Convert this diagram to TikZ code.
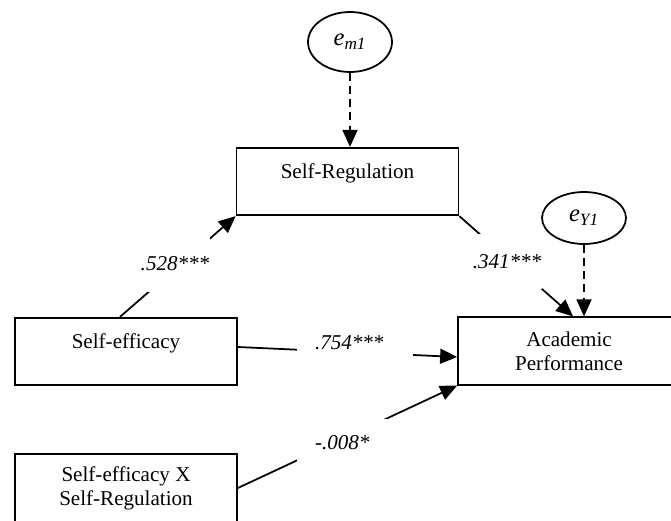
\documentclass[tikz,border=0pt]{standalone}
\usepackage{fontspec}
\setmainfont{Liberation Serif}
\usepackage{tikz}
\usetikzlibrary{arrows.meta,shapes.geometric,positioning,calc}

\tikzset{
  varbox/.style={draw,line width=1pt,rectangle,minimum width=4.44cm,minimum height=1.35cm,align=center,inner sep=0pt},
  onebox/.style={varbox,text height=0.3cm,text depth=0.42cm},
  errnode/.style={draw,line width=1pt,ellipse,inner sep=0pt,font=\fontsize{14pt}{16pt}\selectfont},
  arr/.style={line width=1pt,-{Triangle[length=0.34cm,width=0.3cm]}},
  errarr/.style={arr,dash pattern=on 4.5pt off 3pt},
  coef/.style={fill=white,inner sep=0pt,font=\fontsize{12pt}{14pt}\selectfont\itshape},
  widecoef/.style={coef,text width=1.6cm,align=left,inner xsep=0.36cm}
}

\begin{document}
\begin{tikzpicture}[x=0.02cm,y=-0.02cm,font=\fontsize{12pt}{13.7pt}\selectfont]
\clip (0,0) rectangle (671,520);
\node[errnode,minimum width=1.68cm,minimum height=1.2cm] (em1) at (350,42) {\textit{e}\textsubscript{\textit{m1}}};
\node[errnode,minimum width=1.68cm,minimum height=1.04cm] (ey1) at (584,218) {\textit{e}\textsubscript{\textit{Y1}}};
\node[onebox] (sr) at (347.5,181.5) {Self-Regulation};
\node[onebox] (se) at (126,351.5) {Self-efficacy};
\node[varbox] (ap) at (569,351) {Academic\\Performance};
\node[varbox] (sxs) at (126,488) {Self-efficacy X\\Self-Regulation};
\draw[errarr] (em1.south) -- (em1.south |- sr.north);
\draw[errarr] (ey1.south) -- (ey1.south |- ap.north);
\draw[arr] ([xshift=-0.12cm]se.north) -- (sr.south west);
\draw[arr] (sr.south east) -- ([xshift=0.08cm]ap.north);
\draw[arr] ([yshift=0.09cm]se.east) -- ([yshift=-0.12cm]ap.west);
\draw[arr] (sxs.east) -- (ap.south west);
\node[coef,minimum width=1.4cm,minimum height=1.12cm] (c528) at (175,264) {.528***};
\node[coef,minimum width=1.4cm,minimum height=1.1cm] (c341) at (507,261.5) {.341***};
\node[widecoef,minimum height=0.92cm] (c754) at (355,343) {.754***};
\node[widecoef,minimum height=0.96cm] (c008) at (355,443) {-.008*};
\end{tikzpicture}
\end{document}
